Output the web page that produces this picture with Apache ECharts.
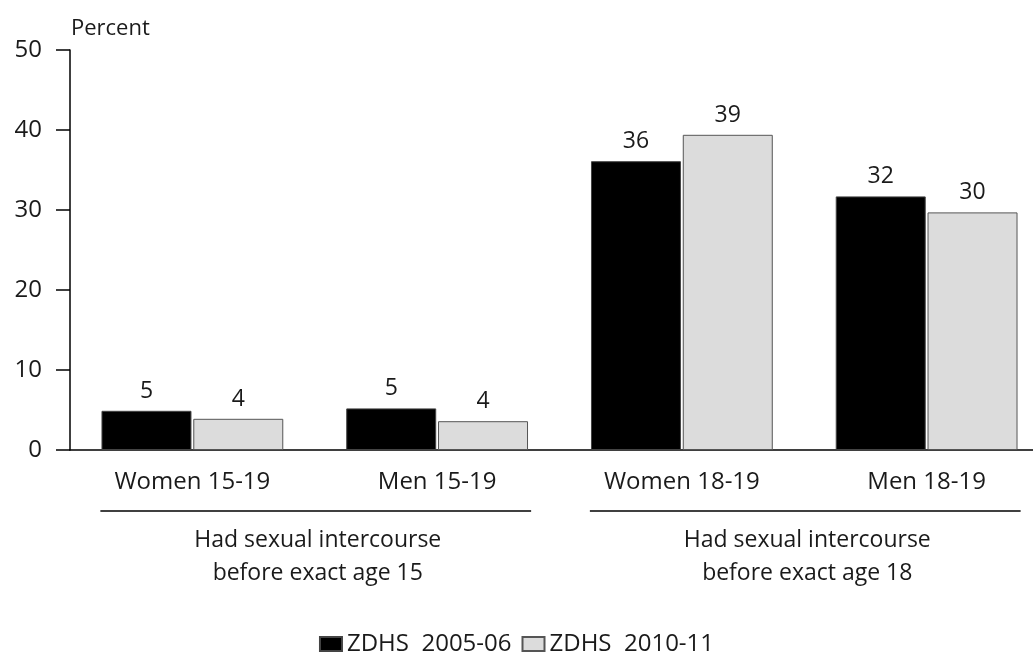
<!DOCTYPE html>
<html>
<head>
<meta charset="utf-8">
<script src="https://cdn.jsdelivr.net/npm/echarts@6/dist/echarts.min.js"></script>
<style>
  html, body { margin: 0; padding: 0; background: #fff; }
  #chart { width: 1033px; height: 655px; }
</style>
</head>
<body>
<div id="chart"></div>
<script>
const categories = ['Women 15-19', 'Men 15-19', 'Women 18-19', 'Men 18-19'];
const zdhs2005 = [4.9, 5.2, 36.1, 31.7];
const zdhs2010 = [3.9, 3.6, 39.4, 29.7];
const seriesNames = ['ZDHS  2005-06', 'ZDHS  2010-11'];
const groupLabels = ['Had sexual intercourse\nbefore exact age 15', 'Had sexual intercourse\nbefore exact age 18'];
const groupSpans = [[0, 1], [2, 3]];
const yMin = 0, yMax = 50, yInterval = 10;
const yTitle = 'Percent';

const FONT = '"Open Sans", sans-serif';
const TXT = '#1a1a1a';

const chart = echarts.init(document.getElementById('chart'), null, { renderer: 'canvas' });

const labelOpt = {
  show: true,
  position: 'top',
  distance: 8,
  color: TXT,
  fontFamily: FONT,
  fontSize: 23,
  formatter: p => String(Math.round(p.value))
};

chart.setOption({
  animation: false,
  backgroundColor: '#fff',
  title: {
    text: yTitle,
    left: 71,
    top: 18,
    padding: 0,
    textStyle: { fontFamily: FONT, fontSize: 22, fontWeight: 'normal', color: TXT }
  },
  legend: {
    top: 627,
    left: 'center',
    icon: 'rect',
    itemWidth: 22,
    itemHeight: 14,
    itemGap: 10,
    selectedMode: false,
    textStyle: { fontFamily: FONT, fontSize: 24, color: TXT },
    data: seriesNames
  },
  grid: { left: 70, top: 50, right: -16, bottom: 205, containLabel: false, outerBoundsMode: 'none' },
  xAxis: {
    type: 'category',
    data: categories,
    axisLine: { show: true, lineStyle: { color: '#000', width: 1.5 } },
    axisTick: { show: false },
    axisLabel: { margin: 20, fontFamily: FONT, fontSize: 24, color: TXT }
  },
  yAxis: {
    type: 'value',
    min: yMin,
    max: yMax,
    interval: yInterval,
    splitLine: { show: false },
    axisLine: { show: true, lineStyle: { color: '#000', width: 1.5 } },
    axisTick: { show: true, length: 14, lineStyle: { color: '#000', width: 1.5 } },
    axisLabel: { margin: 28, fontFamily: FONT, fontSize: 24, color: TXT }
  },
  series: [
    {
      name: seriesNames[0],
      type: 'bar',
      data: zdhs2005,
      barWidth: 90,
      barGap: '2%',
      itemStyle: { color: '#000', borderColor: '#444', borderWidth: 1 },
      label: labelOpt
    },
    {
      name: seriesNames[1],
      type: 'bar',
      data: zdhs2010,
      barWidth: 90,
      barGap: '2%',
      itemStyle: { color: '#dcdcdc', borderColor: '#555', borderWidth: 1 },
      label: labelOpt
    }
  ]
});

// Group underlines and labels positioned from the category axis scale
const graphics = [];
groupSpans.forEach((span, i) => {
  const x0 = chart.convertToPixel({ xAxisIndex: 0 }, categories[span[0]]);
  const x1 = chart.convertToPixel({ xAxisIndex: 0 }, categories[span[1]]);
  const y0 = chart.convertToPixel({ yAxisIndex: 0 }, yMin);
  graphics.push({
    type: 'line',
    shape: { x1: x0 - 92, y1: y0 + 61, x2: x1 + 94, y2: y0 + 61 },
    style: { stroke: '#000', lineWidth: 1.5 }
  });
  graphics.push({
    type: 'text',
    x: (x0 + x1) / 2 + 3,
    y: y0 + 74,
    style: {
      text: groupLabels[i],
      fontFamily: FONT,
      fontSize: 23,
      lineHeight: 33,
      fill: TXT,
      align: 'center',
      verticalAlign: 'top'
    }
  });
});
chart.setOption({ graphic: graphics });
</script>
</body>
</html>
